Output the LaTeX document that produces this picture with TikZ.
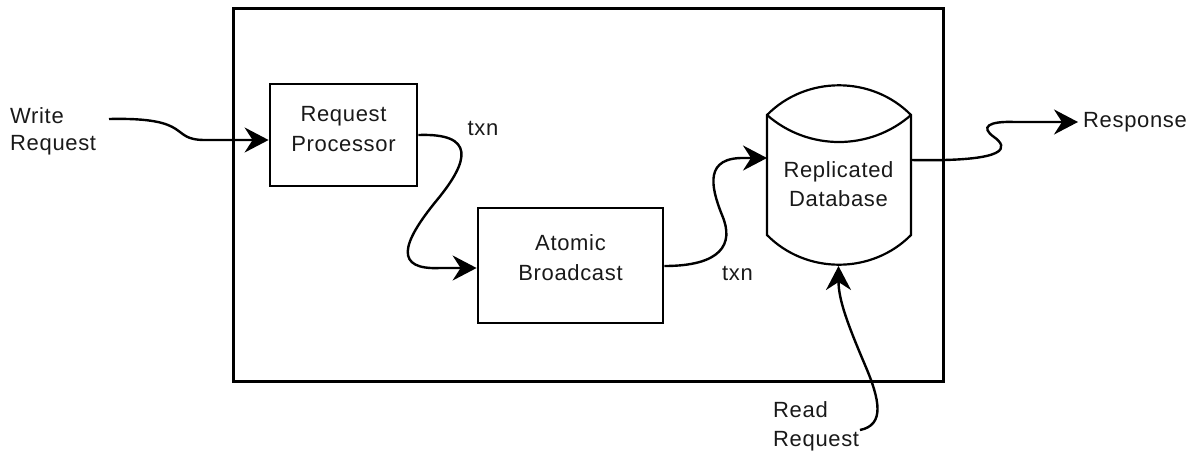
\documentclass[tikz,border=0pt]{standalone}
\usepackage{fontspec}
\setmainfont{Liberation Sans}[LetterSpace=3]
\usetikzlibrary{arrows.meta}
\tikzset{
  frame/.style={draw=black, line width=3pt},
  procbox/.style={draw=black, line width=2.8pt, inner sep=0pt},
  lbl/.style={font=\fontsize{22}{28}\selectfont, text=black!90, inner sep=0pt, anchor=base},
  lbll/.style={lbl, anchor=base west},
  flow/.style={draw=black, line width=2.4pt, -{Stealth[length=24pt,width=25pt,inset=8pt]}},
  dbline/.style={draw=black, line width=2.2pt, line join=miter},
}
\begin{document}
\begin{tikzpicture}[x=1pt,y=-1pt]
\useasboundingbox (0,0) rectangle (1188,453);
% outer frame
\draw[frame] (233,8) rectangle (943,381);
% boxes
\node[procbox, minimum width=147pt, minimum height=102pt] (rp) at (343.5,135) {};
\node[procbox, minimum width=185pt, minimum height=115pt] (ab) at (570.5,265.5) {};
% database (cylinder)
\coordinate (dbtl) at (767,115);
\coordinate (dbtr) at (911,115);
\coordinate (dbbl) at (767,235);
\coordinate (dbbr) at (911,235);
\draw[dbline] (dbtl) .. controls (806,75.4) and (872,75.4) .. (dbtr) -- (dbbr)
   .. controls (872,274.6) and (806,274.6) .. (dbbl) -- cycle;
\draw[dbline] (dbtl) .. controls (808,151) and (870,151) .. (dbtr);
\coordinate (dbin) at (767,158);
\coordinate (dbout) at (911,160);
\coordinate (dbbot) at (838.5,266);
% texts
\node[lbl] (rpt1) at (343.5,121) {Request};
\node[lbl] (rpt2) at (343.5,151) {Processor};
\node[lbl] (abt1) at (570.5,250) {Atomic};
\node[lbl] (abt2) at (570.5,280) {Broadcast};
\node[lbl] (dbt1) at (838.5,177) {Replicated};
\node[lbl] (dbt2) at (838.5,206) {Database};
\node[lbll] (wr1) at (10,123) {Write};
\node[lbll] (wr2) at (10,150) {Request};
\node[lbll] (rr1) at (773,417) {Read};
\node[lbll] (rr2) at (773,446) {Request};
\node[lbll] (resp) at (1083,127) {Response};
\node[lbl] (txn1) at (483,135) {txn};
\node[lbl] (txn2) at (737.5,280) {txn};
% connectors
\coordinate (wrs) at (109,119);
\draw[flow] (wrs) .. controls (195,117) and (168,140) .. (205,140) -- (rp.west |- 0,140);
\coordinate (rps) at (rp.east |- 0,135);
\draw[flow] (rps) .. controls (475,133) and (470,160) .. (437,200)
   .. controls (400,245) and (395,270) .. (440,268) -- (ab.west |- 0,268);
\coordinate (abs) at (ab.east |- 0,266);
\draw[flow] (abs) .. controls (720,266) and (735,245) .. (722,215)
   .. controls (710,185) and (705,157) .. (745,158) -- (dbin);
\coordinate (respend) at (1078,122);
\draw[flow] (dbout) .. controls (1012,162) and (1008,147) .. (994,137)
   .. controls (980,127) and (988,121) .. (1015,122) -- (respend);
\coordinate (rrs) at (860,430);
\draw[flow] (rrs) .. controls (885,425) and (880,400) .. (865,365)
   .. controls (848,325) and (838.5,300) .. (dbbot);
\end{tikzpicture}
\end{document}
